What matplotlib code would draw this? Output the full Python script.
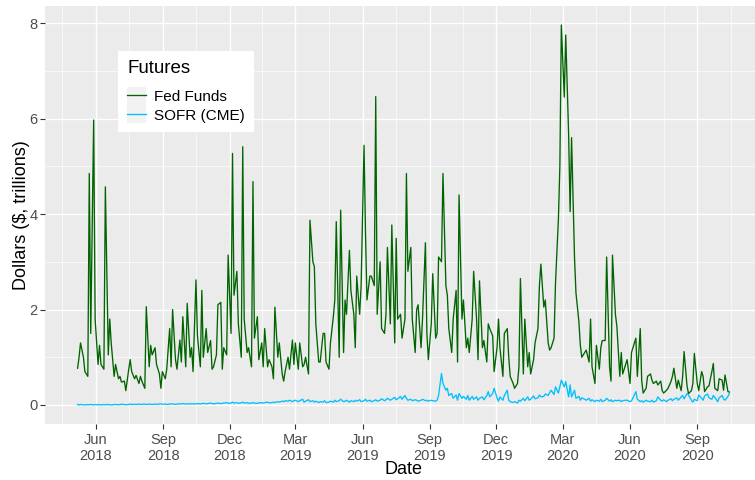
import matplotlib
matplotlib.use('Agg')
import matplotlib.pyplot as plt
from matplotlib.legend_handler import HandlerLine2D
from matplotlib.patches import Rectangle
import pandas as pd

plt.rcParams['font.family'] = ['Liberation Sans', 'DejaVu Sans']

# ---------------- data ----------------
start_date = '2018-05-07'
step = '2B'  # sampled every other business day

fed_funds = [
    0.77, 1.0, 1.3, 1.0, 0.7, 0.6, 4.85, 1.5, 5.97, 1.8,
    0.85, 1.25, 0.85, 0.75, 4.57, 1.05, 1.8, 1.3, 0.6, 0.85,
    0.55, 0.6, 0.48, 0.5, 0.3, 0.75, 0.95, 0.7, 0.55, 0.62,
    0.45, 0.6, 0.5, 0.35, 2.06, 0.8, 1.25, 1.05, 1.2, 0.85,
    0.65, 0.35, 0.7, 0.55, 0.75, 1.6, 0.8, 2.0, 0.95, 0.75,
    1.36, 0.9, 1.85, 0.8, 2.13,
    1.0, 1.2, 0.7, 2.62, 1.45, 0.8, 2.4, 1.0, 1.6, 1.1,
    1.35, 0.75, 0.8, 1.05, 2.1, 2.15, 0.75, 1.2, 1.05, 3.14,
    1.5, 5.27, 2.3, 2.8, 1.7, 1.0, 5.41, 1.8, 1.1, 1.2,
    0.8, 4.68, 1.4, 1.85, 0.95, 1.3, 0.8, 1.6, 0.8, 0.95,
    0.8, 0.55, 2.05, 1.0, 1.3, 0.65, 0.5, 0.7, 1.0, 0.75,
    1.36, 0.85,
    1.3, 0.75, 1.3, 0.8, 0.85, 1.0, 0.65, 3.87, 3.0, 2.9,
    1.7, 0.9, 0.9, 1.5, 1.5, 0.9, 0.75, 1.3, 1.85, 2.2,
    3.84, 1.0, 4.08, 1.1, 2.2, 1.9, 3.24, 2.4, 1.9, 1.2,
    2.7, 1.9, 2.5, 5.44, 3.6, 2.2, 2.7, 2.7, 2.5, 6.46,
    1.9, 3.0, 1.6, 1.5, 1.9, 3.3, 1.7, 3.77, 1.3, 3.49,
    1.8, 1.9, 1.4, 1.8, 4.85,
    2.8, 3.3, 1.8, 1.1, 2.0, 2.1, 1.2, 1.8, 3.4, 1.5,
    0.95, 1.7, 2.75, 1.4, 1.5, 3.1, 3.0, 4.85, 2.5, 2.3,
    1.6, 1.1, 1.8, 2.4, 0.9, 4.4, 1.8, 2.2, 1.2, 1.4,
    1.1, 1.8, 2.8, 1.8, 0.95, 2.6, 1.2, 1.35, 0.9, 1.7,
    1.6, 1.45, 0.7, 1.2, 1.8, 1.2, 0.6, 1.5, 1.6, 1.0,
    0.6, 0.45, 0.35,
    0.45, 0.8, 2.65, 0.65, 1.8, 0.8, 1.1, 0.65, 0.95, 1.3,
    1.6, 2.5, 2.95, 2.05, 2.2, 1.3, 1.15, 1.2, 1.4, 2.55,
    3.9, 5.02, 7.96, 6.45, 7.75, 5.65, 4.05, 5.6, 3.1, 2.35,
    1.75, 1.25, 1.0, 1.1, 1.15, 0.9, 1.8, 0.8, 0.45, 1.25,
    0.75, 1.2, 1.35, 1.35, 3.1, 0.8, 0.5, 3.14, 1.9, 1.65,
    0.6, 1.1, 0.65, 0.85,
    0.95, 0.45, 1.1, 1.2, 1.4, 0.6, 1.6, 0.5, 0.25, 0.35,
    0.6, 0.65, 0.52, 0.45, 0.5, 0.42, 0.5, 0.3, 0.25, 0.31,
    0.35, 0.49, 0.6, 0.77, 0.35, 0.52, 0.3, 0.6, 1.12, 0.4,
    0.24, 0.3, 0.45, 1.08, 0.45, 0.3, 0.7, 0.6, 0.28, 0.38,
    0.4, 0.7, 0.87, 0.35, 0.3, 0.55, 0.52, 0.31, 0.63, 0.28,
    0.27,
]

sofr = [
    0.01, 0.0, 0.01, 0.005, 0.0, 0.01, 0.005, 0.01, 0.0, 0.01,
    0.005, 0.01, 0.0, 0.01, 0.005, 0.01, 0.005, 0.0, 0.01, 0.01,
    0.005, 0.01, 0.015, 0.01, 0.005, 0.01, 0.02, 0.01, 0.015, 0.01,
    0.02, 0.01, 0.015, 0.02, 0.01, 0.02, 0.015, 0.01, 0.02, 0.015,
    0.02, 0.025, 0.015, 0.02, 0.01, 0.02, 0.025, 0.02, 0.015, 0.02,
    0.025, 0.02, 0.03, 0.02, 0.025,
    0.02, 0.03, 0.02, 0.025, 0.03, 0.02, 0.03, 0.035, 0.025, 0.03,
    0.04, 0.03, 0.025, 0.035, 0.04, 0.03, 0.035, 0.04, 0.05, 0.035,
    0.04, 0.06, 0.04, 0.05, 0.035, 0.045, 0.06, 0.04, 0.05, 0.035,
    0.04, 0.05, 0.04, 0.035, 0.045, 0.05, 0.04, 0.05, 0.06, 0.045,
    0.05, 0.06, 0.05, 0.07, 0.06, 0.08, 0.07, 0.09, 0.08, 0.1,
    0.07, 0.09,
    0.1, 0.07, 0.09, 0.12, 0.06, 0.08, 0.11, 0.07, 0.09, 0.06,
    0.08, 0.05, 0.07, 0.06, 0.09, 0.05, 0.06, 0.08, 0.06, 0.1,
    0.07, 0.09, 0.12, 0.07, 0.08, 0.1, 0.06, 0.09, 0.07, 0.1,
    0.08, 0.11, 0.07, 0.09, 0.12, 0.08, 0.1, 0.07, 0.09, 0.11,
    0.08, 0.1, 0.13, 0.09, 0.11, 0.14, 0.1, 0.12, 0.16, 0.11,
    0.13, 0.18, 0.12, 0.2, 0.14,
    0.1, 0.12, 0.09, 0.11, 0.1, 0.08, 0.1, 0.12, 0.09, 0.1,
    0.08, 0.1, 0.09, 0.08, 0.1, 0.2, 0.66, 0.45, 0.31, 0.35,
    0.2, 0.24, 0.14, 0.21, 0.1, 0.24, 0.14, 0.18, 0.12, 0.2,
    0.1, 0.18, 0.12, 0.17, 0.1, 0.14, 0.17, 0.11, 0.2, 0.28,
    0.17, 0.24, 0.35, 0.15, 0.08, 0.17, 0.1, 0.2, 0.31, 0.1,
    0.07, 0.05, 0.07,
    0.04, 0.1, 0.08, 0.14, 0.09, 0.17, 0.1, 0.12, 0.19, 0.13,
    0.15, 0.21, 0.17, 0.18, 0.23, 0.2, 0.26, 0.31, 0.22, 0.38,
    0.25, 0.38, 0.52, 0.38, 0.49, 0.17, 0.42, 0.17, 0.31, 0.14,
    0.18, 0.1, 0.15, 0.12, 0.1, 0.14, 0.08, 0.11, 0.07, 0.1,
    0.08, 0.12, 0.07, 0.1, 0.14, 0.08, 0.11, 0.07, 0.1, 0.09,
    0.1, 0.07, 0.09, 0.1,
    0.1, 0.07, 0.09, 0.15, 0.28, 0.12, 0.07, 0.09, 0.06, 0.1,
    0.08, 0.07, 0.1, 0.06, 0.09, 0.17, 0.1, 0.08, 0.11, 0.07,
    0.1, 0.13, 0.09, 0.12, 0.15, 0.1, 0.17, 0.2, 0.13, 0.24,
    0.21, 0.1, 0.06, 0.12, 0.09, 0.21, 0.14, 0.1, 0.19, 0.23,
    0.15, 0.12, 0.2, 0.16, 0.07, 0.15, 0.2, 0.13, 0.1, 0.18,
    0.25,
]

x_tick_dates = ['2018-06-01', '2018-09-01', '2018-12-01', '2019-03-01', '2019-06-01',
                '2019-09-01', '2019-12-01', '2020-03-01', '2020-06-01', '2020-09-01']
x_tick_labels = ['Jun\n2018', 'Sep\n2018', 'Dec\n2018', 'Mar\n2019', 'Jun\n2019',
                 'Sep\n2019', 'Dec\n2019', 'Mar\n2020', 'Jun\n2020', 'Sep\n2020']
y_ticks = [0, 2, 4, 6, 8]
series_names = ['Fed Funds', 'SOFR (CME)']
series_colors = ['#006400', '#00BFFF']

# ---------------- figure ----------------
dates = pd.bdate_range(start=start_date, periods=len(fed_funds), freq=step)

fig = plt.figure(figsize=(7.55, 4.8), dpi=100)
ax = fig.add_axes([45 / 755, 56 / 480, 717 / 755, 418 / 480])
ax.set_facecolor('#EBEBEB')

for vals, name, col in zip([fed_funds, sofr], series_names, series_colors):
    ax.plot(dates, vals, color=col, lw=0.95, label=name, zorder=3)

rng = dates[-1] - dates[0]
ax.set_xlim(dates[0] - 0.05 * rng, dates[-1] + 0.05 * rng)
allv = fed_funds + sofr
yr = max(allv) - min(allv)
ax.set_ylim(min(allv) - 0.05 * yr, max(allv) + 0.05 * yr)

# ticks
major = pd.to_datetime(x_tick_dates)
ext = pd.date_range('2018-03-01', '2020-12-01', freq='3MS')
minor = [ext[i] + (ext[i + 1] - ext[i]) / 2 for i in range(len(ext) - 1)]
ax.set_xticks(major)
ax.set_xticklabels(x_tick_labels)
ax.set_xticks(minor, minor=True)
ax.set_yticks(y_ticks)
ax.set_yticks([1, 3, 5, 7], minor=True)

ax.grid(which='major', color='white', lw=1.0, zorder=0)
ax.grid(which='minor', color='white', lw=0.45, zorder=0)
ax.set_axisbelow(True)
for s in ax.spines.values():
    s.set_visible(False)
ax.tick_params(which='major', length=3.5, width=0.8, color='#333333',
               labelcolor='#4D4D4D', labelsize=10.5, pad=2)
ax.tick_params(which='minor', length=0)
ax.tick_params(axis='x', which='major', pad=3)
for lab in ax.get_xticklabels():
    lab.set_linespacing(1.15)

ax.set_xlabel('Date', fontsize=13, color='black', labelpad=-1)
ax.set_ylabel('Dollars ($, trillions)', fontsize=13, color='black', labelpad=-1)


class KeyHandler(HandlerLine2D):
    def create_artists(self, legend, orig_handle, xdescent, ydescent,
                       width, height, fontsize, trans):
        rect = Rectangle((-xdescent, -ydescent - 0.15 * height), width, height * 1.3,
                         facecolor='#F2F2F2', edgecolor='none', transform=trans)
        arts = super().create_artists(legend, orig_handle, xdescent, ydescent,
                                      width, height, fontsize, trans)
        return [rect] + arts


handles, labels = ax.get_legend_handles_labels()
leg = ax.legend(handles, labels, title='Futures', loc='upper left',
                bbox_to_anchor=(0.102, 0.893), fontsize=11, title_fontsize=13.5,
                frameon=True, fancybox=False, framealpha=1, facecolor='white',
                edgecolor='none', handlelength=1.25, handleheight=1.0,
                handletextpad=0.5, labelspacing=0.2, borderpad=0.6,
                borderaxespad=0, alignment='left',
                handler_map={matplotlib.lines.Line2D: KeyHandler()})
leg.get_frame().set_linewidth(0)
leg._legend_box.sep = 9
for h in leg.legend_handles:
    h.set_linewidth(1.2)

fig.savefig('out.png', dpi=100)
